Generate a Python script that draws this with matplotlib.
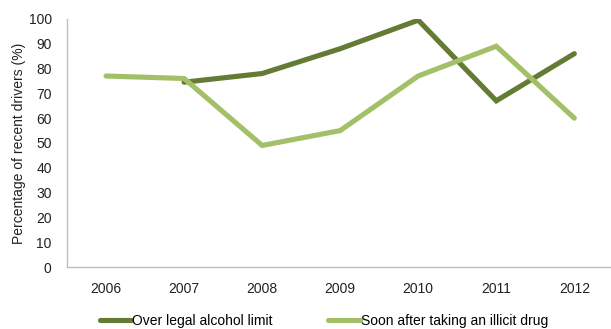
import numpy as np
import matplotlib
matplotlib.use('Agg')
import matplotlib.pyplot as plt

# survey years and percentages of recent drivers
years = ['2006', '2007', '2008', '2009', '2010', '2011', '2012']
alcohol = [np.nan, 74.5, 78, 88, 99.5, 67, 86]
drug = [77, 76, 49, 55, 77, 89, 60]

dark_green = '#647b33'
light_green = '#a3c069'
axis_grey = '#bfbfbf'

plt.rcParams['font.family'] = ['Liberation Sans', 'DejaVu Sans']

fig = plt.figure(figsize=(6.11, 3.29), dpi=100)
ax = fig.add_axes([0.1097, 0.1884, 0.8903, 0.754])

x = np.arange(len(years))
ax.plot(x, alcohol, color=dark_green, linewidth=3.7, solid_capstyle='round',
        solid_joinstyle='miter', label='Over legal alcohol limit')
ax.plot(x, drug, color=light_green, linewidth=3.7, solid_capstyle='round',
        solid_joinstyle='miter', label='Soon after taking an illicit drug')

ax.set_xlim(-0.5, 6.47)
ax.set_ylim(0, 100)
ax.set_yticks(range(0, 101, 10))
ax.set_xticks(x)
ax.set_xticklabels(years)
ax.tick_params(axis='both', length=0, labelsize=10, colors='#222222')
ax.tick_params(axis='x', pad=11)
ax.tick_params(axis='y', pad=11)

for side in ['top', 'right']:
    ax.spines[side].set_visible(False)
for side in ['left', 'bottom']:
    ax.spines[side].set_color(axis_grey)
    ax.spines[side].set_linewidth(1.0)

ax.set_ylabel('Percentage of recent drivers (%)', fontsize=10, color='#222222', labelpad=2)

fig.legend(loc='center', bbox_to_anchor=(0.53, 0.025), ncol=2, frameon=False,
           fontsize=10, handlelength=2.3, handletextpad=0.05, columnspacing=4.0,
           borderpad=0)

fig.savefig('out.png', dpi=100)
